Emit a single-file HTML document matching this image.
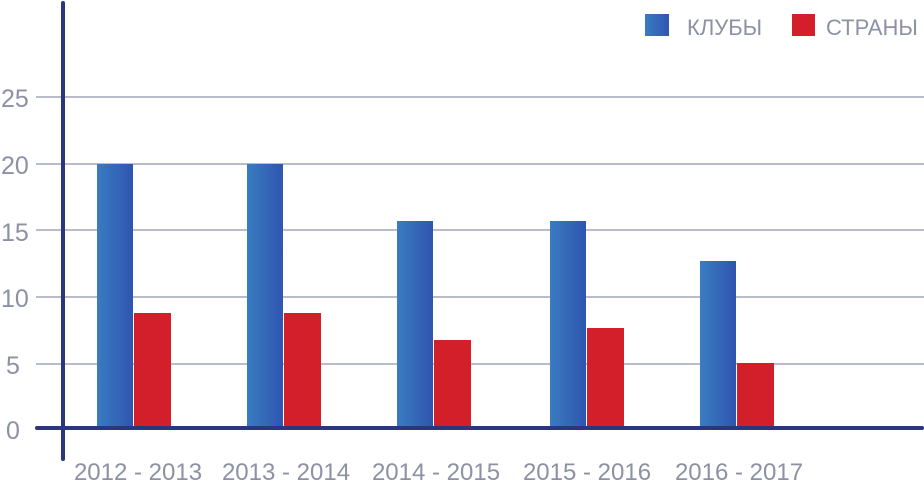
<!DOCTYPE html><html><head><meta charset="utf-8"><style>
body{margin:0;background:#fff;width:924px;height:481px;overflow:hidden}
text{font-family:"Liberation Sans",sans-serif;fill:#8c91a3;font-weight:300}
</style></head><body>
<svg width="924" height="481" viewBox="0 0 924 481">
<defs><linearGradient id="b" x1="0" x2="1"><stop offset="0" stop-color="#3a7cc0"/><stop offset="1" stop-color="#2f55b0"/></linearGradient></defs>
<g stroke="#b9bccb" stroke-width="2">
<line x1="36" y1="97" x2="924" y2="97"/><line x1="36" y1="164" x2="924" y2="164"/>
<line x1="36" y1="230" x2="924" y2="230"/><line x1="36" y1="297" x2="924" y2="297"/>
<line x1="36" y1="364" x2="924" y2="364"/></g>
<g fill="url(#b)">
<rect x="97" y="164" width="36" height="264"/><rect x="247" y="164" width="36" height="264"/>
<rect x="397" y="221" width="36" height="207"/><rect x="550" y="221" width="36" height="207"/>
<rect x="700" y="261" width="36" height="167"/></g>
<g fill="#d31f2a">
<rect x="134" y="313" width="37" height="115"/><rect x="284" y="313" width="37" height="115"/>
<rect x="434" y="340" width="37" height="88"/><rect x="587" y="328" width="37" height="100"/>
<rect x="737" y="363" width="37" height="65"/></g>
<line x1="63" y1="3" x2="63" y2="459" stroke="#2b3580" stroke-width="4" stroke-linecap="round"/>
<line x1="37" y1="428" x2="922" y2="428" stroke="#2b3580" stroke-width="4" stroke-linecap="round"/>
<g font-size="25">
<text x="1" y="107">25</text><text x="1" y="174">20</text><text x="1" y="241">15</text>
<text x="1" y="307">10</text><text x="6" y="374">5</text><text x="6" y="439">0</text>
</g>
<g font-size="24" text-anchor="middle">
<text x="138" y="480">2012 - 2013</text><text x="286" y="480">2013 - 2014</text>
<text x="436" y="480">2014 - 2015</text><text x="587" y="480">2015 - 2016</text>
<text x="739" y="480">2016 - 2017</text></g>
<rect x="645" y="14" width="24" height="22" fill="url(#b)"/>
<text x="687" y="35" font-size="22">КЛУБЫ</text>
<rect x="792" y="14" width="23" height="22" fill="#d31f2a"/>
<text x="826" y="35" font-size="22">СТРАНЫ</text>
</svg></body></html>
